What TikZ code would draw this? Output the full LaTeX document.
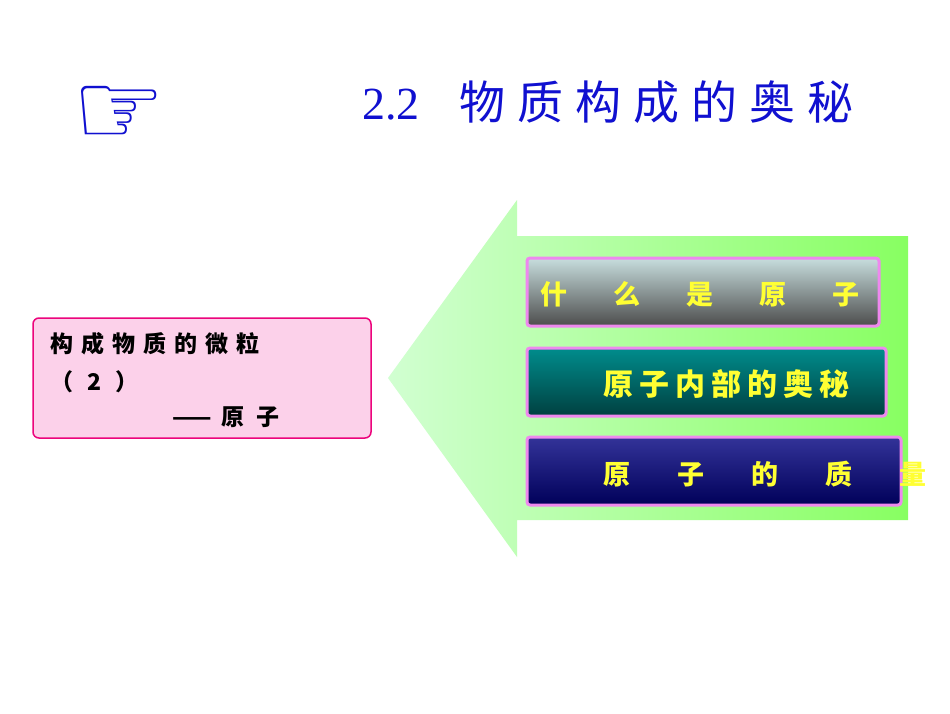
\documentclass[tikz,border=0pt]{standalone}
\usepackage{fontspec}
\newfontfamily\cjk{Noto Sans CJK SC}
\newfontfamily\cjkb{Noto Sans CJK SC Black}
\newfontfamily\dv{DejaVu Sans}
\setmainfont{Liberation Serif}
\definecolor{titleblue}{HTML}{1010D0}
\definecolor{pinkb}{HTML}{EE88EE}
\definecolor{ylw}{HTML}{FFFF33}
\tikzset{
 btn/.style={rounded corners=3pt, draw=pinkb, line width=3pt},
 btxt/.style={text=ylw, font=\cjkb\fontsize{27}{30}\selectfont, anchor=west, inner sep=0pt},
 ltxt/.style={anchor=west, inner sep=0pt, font=\cjkb\fontsize{23}{26}\selectfont},
}
\begin{document}
\begin{tikzpicture}[x=1pt,y=-1pt]
\useasboundingbox (0,0) rectangle (950,713);
\fill[white] (0,0) rectangle (950,713);
\node[text=titleblue, font=\dv\bfseries\fontsize{104}{104}\selectfont, inner sep=0pt] (hand) at (119,116) {☞};
\node[text=titleblue, anchor=west, inner sep=0pt, font=\fontsize{46}{50}\selectfont] (title) at (362,102) {2.2\hspace{40pt}{\cjk\fontsize{46}{50}\selectfont 物\hspace{12pt}质\hspace{12pt}构\hspace{12pt}成\hspace{12pt}的\hspace{12pt}奥\hspace{12pt}秘}};
\shade[left color=green!18!white, right color=green!55!white!85!yellow]
 (388,378) -- (517,200) -- (517,236) -- (908,236) -- (908,520) -- (517,520) -- (517,557) -- cycle;
\shade[btn, top color=cyan!25!gray!35!white, bottom color=gray!60!black] (527,258) rectangle (879,326);
\shade[btn, top color=teal!90!cyan, bottom color=teal!50!black] (527,348) rectangle (886,416);
\shade[btn, top color=blue!50!black!80!white, bottom color=blue!35!black] (527,437) rectangle (901,505);
\node[btxt] (b1) at (540,294) {什\hspace{46pt}么\hspace{46pt}是\hspace{46pt}原\hspace{46pt}子};
\node[btxt, font=\cjkb\fontsize{30}{32}\selectfont] (b2) at (603,384) {原\hspace{6pt}子\hspace{6pt}内\hspace{6pt}部\hspace{6pt}的\hspace{6pt}奥\hspace{6pt}秘};
\node[btxt] (b3) at (603,474) {原\hspace{47pt}子\hspace{47pt}的\hspace{47pt}质\hspace{47pt}量};
\draw[draw=magenta!85!red, fill=magenta!18!white, line width=1.5pt, rounded corners=6pt] (33,318) rectangle (371,438);
\node[ltxt] (l1) at (50,344) {构\hspace{8pt}成\hspace{8pt}物\hspace{8pt}质\hspace{8pt}的\hspace{8pt}微\hspace{8pt}粒};
\node[ltxt] (l2) at (50,382) {（\hspace{14pt}2\hspace{14pt}）};
\node[ltxt] (l3) at (172,417) {——\hspace{10pt}原\hspace{12pt}子};
\end{tikzpicture}
\end{document}
